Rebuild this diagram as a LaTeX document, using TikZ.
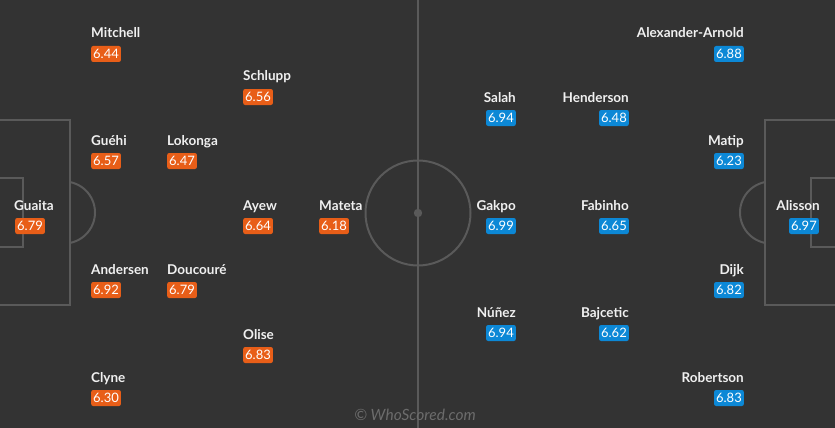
\documentclass[tikz,border=0pt]{standalone}
\usepackage{fontspec}
\setmainfont{Lato}
\definecolor{pitchbg}{RGB}{51,51,51}
\definecolor{pitchline}{RGB}{90,90,90}
\definecolor{homeorange}{RGB}{232,94,24}
\definecolor{awayblue}{RGB}{12,136,214}
\definecolor{namewhite}{RGB}{240,240,240}
\definecolor{markgray}{RGB}{108,108,108}
\begin{document}
\begin{tikzpicture}[x=1pt, y=-1pt,
  pline/.style={draw=pitchline, line width=2pt},
  pname/.style={inner sep=0pt, text=namewhite, font=\fontsize{13.5}{14}\selectfont\bfseries},
  hname/.style={pname, anchor=base west},
  aname/.style={pname, anchor=base east},
  score/.style={inner xsep=2pt, inner ysep=0pt, minimum height=16pt, text height=9.6pt, text depth=0pt,
    rounded corners=2pt, text=white, font=\fontsize{13}{13}\selectfont},
  hscore/.style={score, fill=homeorange, anchor=west},
  ascore/.style={score, fill=awayblue, anchor=east}]

\fill[pitchbg] (0,0) rectangle (835,428);
\useasboundingbox (0,0) rectangle (835,428);

% pitch markings
\draw[pline] (418,0) -- (418,428);
\draw[pline] (418,213) circle (52.5);
\fill[pitchline] (418,213) circle (4.2);

\draw[pline] (-2,120) rectangle (70,305);
\draw[pline] (-2,178) rectangle (23,247);
\begin{scope}
\clip (71,0) rectangle (200,428);
\draw[pline] (64,212.5) circle (31);
\end{scope}

\draw[pline] (837,120) rectangle (765,305);
\draw[pline] (837,178) rectangle (811,247);
\begin{scope}
\clip (764,0) rectangle (600,428);
\draw[pline] (771,212.5) circle (31);
\end{scope}

% Crystal Palace
\node[hname] (guaita) at (14,210) {Guaita};
\node[hscore] (guaitar) at (15,226) {6.79};

\node[hname] (mitchell) at (91,38) {Mitchell};
\node[hscore] (mitchellr) at (91,54) {6.44};
\node[hname] (guehi) at (91,145) {Guéhi};
\node[hscore] (guehir) at (91,161) {6.57};
\node[hname] (andersen) at (91,274) {Andersen};
\node[hscore] (andersenr) at (91,290) {6.92};
\node[hname] (clyne) at (91,382) {Clyne};
\node[hscore] (clyner) at (91,398) {6.30};

\node[hname] (lokonga) at (167,145) {Lokonga};
\node[hscore] (lokongar) at (167,161) {6.47};
\node[hname] (doucoure) at (167,274) {Doucouré};
\node[hscore] (doucourer) at (167,290) {6.79};

\node[hname] (schlupp) at (243,81) {Schlupp};
\node[hscore] (schluppr) at (243,97) {6.56};
\node[hname] (ayew) at (243,210) {Ayew};
\node[hscore] (ayewr) at (243,226) {6.64};
\node[hname] (olise) at (243,339) {Olise};
\node[hscore] (oliser) at (243,355) {6.83};

\node[hname] (mateta) at (319,210) {Mateta};
\node[hscore] (matetar) at (319,226) {6.18};

% Liverpool
\node[aname] (alisson) at (820,210) {Alisson};
\node[ascore] (alissonr) at (819,226) {6.97};

\node[aname] (trent) at (744,38) {Alexander-Arnold};
\node[ascore] (trentr) at (744,54) {6.88};
\node[aname] (matip) at (744,145) {Matip};
\node[ascore] (matipr) at (744,161) {6.23};
\node[aname] (dijk) at (744,274) {Dijk};
\node[ascore] (dijkr) at (744,290) {6.82};
\node[aname] (robertson) at (744,382) {Robertson};
\node[ascore] (robertsonr) at (744,398) {6.83};

\node[aname] (henderson) at (629,102) {Henderson};
\node[ascore] (hendersonr) at (629,118) {6.48};
\node[aname] (fabinho) at (629,210) {Fabinho};
\node[ascore] (fabinhor) at (629,226) {6.65};
\node[aname] (bajcetic) at (629,317) {Bajcetic};
\node[ascore] (bajceticr) at (629,333) {6.62};

\node[aname] (salah) at (516,102) {Salah};
\node[ascore] (salahr) at (516,118) {6.94};
\node[aname] (gakpo) at (516,210) {Gakpo};
\node[ascore] (gakpor) at (516,226) {6.99};
\node[aname] (nunez) at (516,317) {Núñez};
\node[ascore] (nunezr) at (516,333) {6.94};

\node[inner sep=0pt, text=markgray, font=\fontsize{15.5}{15.5}\selectfont\itshape, anchor=base] (mark) at (415,420) {© WhoScored.com};

\end{tikzpicture}
\end{document}
